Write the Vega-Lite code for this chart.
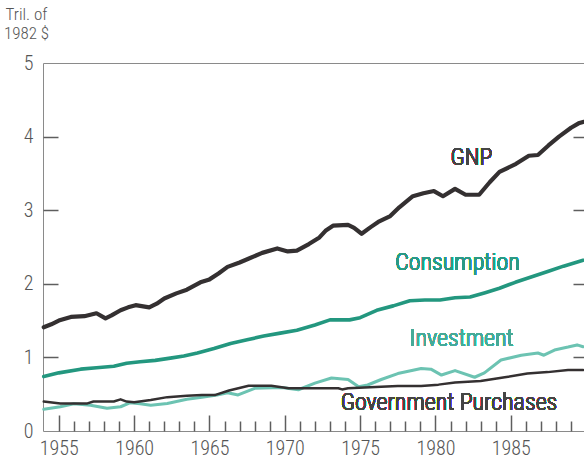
{
  "$schema": "https://vega.github.io/schema/vega-lite/v6.json",
  "width": 541,
  "height": 368,
  "autosize": {"type": "none"},
  "padding": {"left": 43, "top": 63, "right": 0, "bottom": 32},
  "background": "white",
  "config": {
    "view": {"stroke": null},
    "font": "Roboto Condensed, Roboto, sans-serif",
    "axis": {"grid": false, "domainColor": "#8a8a8a", "tickColor": "#5e5e5e", "tickWidth": 1.5, "labelColor": "#555555", "titleColor": "#555555", "labelFont": "Roboto Condensed, Roboto, sans-serif", "titleFont": "Roboto Condensed, Roboto, sans-serif", "labelFontWeight": 300, "titleFontWeight": 300}
  },
  "datasets": {
    "econ": [
      {"series": "Investment", "year": 1954.0, "v": 0.295},
      {"series": "Investment", "year": 1955.1, "v": 0.33},
      {"series": "Investment", "year": 1956.0, "v": 0.37},
      {"series": "Investment", "year": 1957.1, "v": 0.35},
      {"series": "Investment", "year": 1958.2, "v": 0.31},
      {"series": "Investment", "year": 1959.1, "v": 0.33},
      {"series": "Investment", "year": 1959.75, "v": 0.385},
      {"series": "Investment", "year": 1960.4, "v": 0.37},
      {"series": "Investment", "year": 1961.1, "v": 0.35},
      {"series": "Investment", "year": 1962.2, "v": 0.375},
      {"series": "Investment", "year": 1963.5, "v": 0.43},
      {"series": "Investment", "year": 1964.5, "v": 0.46},
      {"series": "Investment", "year": 1965.5, "v": 0.49},
      {"series": "Investment", "year": 1966.2, "v": 0.52},
      {"series": "Investment", "year": 1966.9, "v": 0.49},
      {"series": "Investment", "year": 1968.0, "v": 0.58},
      {"series": "Investment", "year": 1969.8, "v": 0.59},
      {"series": "Investment", "year": 1970.9, "v": 0.56},
      {"series": "Investment", "year": 1972.0, "v": 0.65},
      {"series": "Investment", "year": 1973.1, "v": 0.72},
      {"series": "Investment", "year": 1974.2, "v": 0.70},
      {"series": "Investment", "year": 1974.9, "v": 0.60},
      {"series": "Investment", "year": 1975.5, "v": 0.625},
      {"series": "Investment", "year": 1976.4, "v": 0.70},
      {"series": "Investment", "year": 1977.5, "v": 0.78},
      {"series": "Investment", "year": 1979.05, "v": 0.85},
      {"series": "Investment", "year": 1979.7, "v": 0.84},
      {"series": "Investment", "year": 1980.4, "v": 0.76},
      {"series": "Investment", "year": 1981.3, "v": 0.82},
      {"series": "Investment", "year": 1982.6, "v": 0.73},
      {"series": "Investment", "year": 1983.25, "v": 0.79},
      {"series": "Investment", "year": 1984.35, "v": 0.965},
      {"series": "Investment", "year": 1985.7, "v": 1.03},
      {"series": "Investment", "year": 1986.8, "v": 1.06},
      {"series": "Investment", "year": 1987.2, "v": 1.03},
      {"series": "Investment", "year": 1987.9, "v": 1.10},
      {"series": "Investment", "year": 1988.8, "v": 1.14},
      {"series": "Investment", "year": 1989.4, "v": 1.17},
      {"series": "Investment", "year": 1989.8, "v": 1.145},
      {"series": "Consumption", "year": 1954.0, "v": 0.74},
      {"series": "Consumption", "year": 1955.0, "v": 0.79},
      {"series": "Consumption", "year": 1956.45, "v": 0.84},
      {"series": "Consumption", "year": 1957.5, "v": 0.86},
      {"series": "Consumption", "year": 1958.65, "v": 0.88},
      {"series": "Consumption", "year": 1959.5, "v": 0.92},
      {"series": "Consumption", "year": 1960.4, "v": 0.94},
      {"series": "Consumption", "year": 1961.4, "v": 0.96},
      {"series": "Consumption", "year": 1962.4, "v": 0.99},
      {"series": "Consumption", "year": 1963.3, "v": 1.02},
      {"series": "Consumption", "year": 1964.2, "v": 1.06},
      {"series": "Consumption", "year": 1965.3, "v": 1.12},
      {"series": "Consumption", "year": 1966.4, "v": 1.19},
      {"series": "Consumption", "year": 1967.5, "v": 1.24},
      {"series": "Consumption", "year": 1968.6, "v": 1.29},
      {"series": "Consumption", "year": 1969.7, "v": 1.33},
      {"series": "Consumption", "year": 1970.8, "v": 1.37},
      {"series": "Consumption", "year": 1972.0, "v": 1.44},
      {"series": "Consumption", "year": 1973.0, "v": 1.51},
      {"series": "Consumption", "year": 1974.3, "v": 1.51},
      {"series": "Consumption", "year": 1975.0, "v": 1.54},
      {"series": "Consumption", "year": 1976.1, "v": 1.64},
      {"series": "Consumption", "year": 1977.2, "v": 1.70},
      {"series": "Consumption", "year": 1978.3, "v": 1.77},
      {"series": "Consumption", "year": 1979.3, "v": 1.78},
      {"series": "Consumption", "year": 1980.3, "v": 1.78},
      {"series": "Consumption", "year": 1981.3, "v": 1.81},
      {"series": "Consumption", "year": 1982.3, "v": 1.82},
      {"series": "Consumption", "year": 1983.3, "v": 1.88},
      {"series": "Consumption", "year": 1984.25, "v": 1.94},
      {"series": "Consumption", "year": 1985.3, "v": 2.02},
      {"series": "Consumption", "year": 1986.45, "v": 2.10},
      {"series": "Consumption", "year": 1987.5, "v": 2.17},
      {"series": "Consumption", "year": 1988.5, "v": 2.24},
      {"series": "Consumption", "year": 1989.8, "v": 2.32},
      {"series": "GNP", "year": 1954.0, "v": 1.41},
      {"series": "GNP", "year": 1954.5, "v": 1.45},
      {"series": "GNP", "year": 1955.0, "v": 1.50},
      {"series": "GNP", "year": 1955.8, "v": 1.55},
      {"series": "GNP", "year": 1956.7, "v": 1.56},
      {"series": "GNP", "year": 1957.5, "v": 1.60},
      {"series": "GNP", "year": 1958.1, "v": 1.53},
      {"series": "GNP", "year": 1958.5, "v": 1.57},
      {"series": "GNP", "year": 1959.1, "v": 1.64},
      {"series": "GNP", "year": 1959.6, "v": 1.68},
      {"series": "GNP", "year": 1960.1, "v": 1.71},
      {"series": "GNP", "year": 1961.0, "v": 1.68},
      {"series": "GNP", "year": 1961.5, "v": 1.73},
      {"series": "GNP", "year": 1962.0, "v": 1.80},
      {"series": "GNP", "year": 1962.8, "v": 1.87},
      {"series": "GNP", "year": 1963.5, "v": 1.92},
      {"series": "GNP", "year": 1964.4, "v": 2.02},
      {"series": "GNP", "year": 1965.0, "v": 2.06},
      {"series": "GNP", "year": 1965.6, "v": 2.14},
      {"series": "GNP", "year": 1966.2, "v": 2.23},
      {"series": "GNP", "year": 1967.0, "v": 2.29},
      {"series": "GNP", "year": 1967.7, "v": 2.35},
      {"series": "GNP", "year": 1968.5, "v": 2.42},
      {"series": "GNP", "year": 1969.5, "v": 2.48},
      {"series": "GNP", "year": 1970.2, "v": 2.44},
      {"series": "GNP", "year": 1970.8, "v": 2.45},
      {"series": "GNP", "year": 1971.6, "v": 2.54},
      {"series": "GNP", "year": 1972.3, "v": 2.63},
      {"series": "GNP", "year": 1972.7, "v": 2.72},
      {"series": "GNP", "year": 1973.2, "v": 2.79},
      {"series": "GNP", "year": 1974.2, "v": 2.80},
      {"series": "GNP", "year": 1974.6, "v": 2.76},
      {"series": "GNP", "year": 1975.1, "v": 2.68},
      {"series": "GNP", "year": 1975.7, "v": 2.77},
      {"series": "GNP", "year": 1976.2, "v": 2.84},
      {"series": "GNP", "year": 1977.0, "v": 2.92},
      {"series": "GNP", "year": 1977.6, "v": 3.04},
      {"series": "GNP", "year": 1978.5, "v": 3.19},
      {"series": "GNP", "year": 1979.2, "v": 3.23},
      {"series": "GNP", "year": 1979.9, "v": 3.26},
      {"series": "GNP", "year": 1980.5, "v": 3.19},
      {"series": "GNP", "year": 1981.3, "v": 3.29},
      {"series": "GNP", "year": 1982.0, "v": 3.21},
      {"series": "GNP", "year": 1982.9, "v": 3.21},
      {"series": "GNP", "year": 1983.6, "v": 3.38},
      {"series": "GNP", "year": 1984.25, "v": 3.52},
      {"series": "GNP", "year": 1985.35, "v": 3.63},
      {"series": "GNP", "year": 1986.2, "v": 3.74},
      {"series": "GNP", "year": 1986.8, "v": 3.75},
      {"series": "GNP", "year": 1987.5, "v": 3.88},
      {"series": "GNP", "year": 1988.2, "v": 4.00},
      {"series": "GNP", "year": 1989.0, "v": 4.12},
      {"series": "GNP", "year": 1989.5, "v": 4.18},
      {"series": "GNP", "year": 1989.8, "v": 4.20},
      {"series": "Government Purchases", "year": 1954.0, "v": 0.40},
      {"series": "Government Purchases", "year": 1955.1, "v": 0.375},
      {"series": "Government Purchases", "year": 1956.9, "v": 0.375},
      {"series": "Government Purchases", "year": 1957.3, "v": 0.40},
      {"series": "Government Purchases", "year": 1958.65, "v": 0.40},
      {"series": "Government Purchases", "year": 1959.1, "v": 0.43},
      {"series": "Government Purchases", "year": 1959.5, "v": 0.40},
      {"series": "Government Purchases", "year": 1960.0, "v": 0.39},
      {"series": "Government Purchases", "year": 1961.1, "v": 0.42},
      {"series": "Government Purchases", "year": 1962.2, "v": 0.46},
      {"series": "Government Purchases", "year": 1963.5, "v": 0.48},
      {"series": "Government Purchases", "year": 1964.5, "v": 0.49},
      {"series": "Government Purchases", "year": 1965.4, "v": 0.49},
      {"series": "Government Purchases", "year": 1966.3, "v": 0.55},
      {"series": "Government Purchases", "year": 1967.6, "v": 0.615},
      {"series": "Government Purchases", "year": 1969.1, "v": 0.615},
      {"series": "Government Purchases", "year": 1970.25, "v": 0.58},
      {"series": "Government Purchases", "year": 1972.0, "v": 0.58},
      {"series": "Government Purchases", "year": 1973.55, "v": 0.58},
      {"series": "Government Purchases", "year": 1973.8, "v": 0.565},
      {"series": "Government Purchases", "year": 1974.2, "v": 0.58},
      {"series": "Government Purchases", "year": 1975.3, "v": 0.59},
      {"series": "Government Purchases", "year": 1977.5, "v": 0.61},
      {"series": "Government Purchases", "year": 1979.05, "v": 0.61},
      {"series": "Government Purchases", "year": 1980.2, "v": 0.63},
      {"series": "Government Purchases", "year": 1981.3, "v": 0.66},
      {"series": "Government Purchases", "year": 1983.0, "v": 0.68},
      {"series": "Government Purchases", "year": 1984.6, "v": 0.73},
      {"series": "Government Purchases", "year": 1986.1, "v": 0.78},
      {"series": "Government Purchases", "year": 1987.45, "v": 0.80},
      {"series": "Government Purchases", "year": 1988.8, "v": 0.83},
      {"series": "Government Purchases", "year": 1989.8, "v": 0.83}
    ]
  },
  "data": {"name": "econ"},
  "resolve": {"axis": {"x": "independent", "y": "independent"}},
  "layer": [
    {
      "layer": [
        {
          "mark": {"type": "line", "strokeJoin": "round", "strokeCap": "round"},
          "encoding": {
            "x": {
              "field": "year", "type": "quantitative",
              "scale": {"domain": [1953.95, 1989.86], "nice": false, "zero": false},
              "axis": {"orient": "bottom", "values": [1955, 1960, 1965, 1970, 1975, 1980, 1985], "format": "d", "ticks": false, "labelPadding": 7, "labelFontSize": 20, "title": null, "labelFlush": false}
            },
            "y": {
              "field": "v", "type": "quantitative",
              "scale": {"domain": [0, 5], "nice": false},
              "axis": {"orient": "left", "values": [0, 1, 2, 3, 4, 5], "format": "d", "ticks": false, "labelPadding": 10, "labelFontSize": 20, "labelFlush": false,
                "title": ["Tril. of", "1982 $"], "titleAngle": 0, "titleAlign": "center", "titleBaseline": "top", "titleX": -17, "titleY": -57, "titleFontSize": 17, "titleLineHeight": 19}
            },
            "color": {
              "field": "series", "type": "nominal", "legend": null,
              "scale": {"domain": ["GNP", "Consumption", "Investment", "Government Purchases"], "range": ["#343031", "#23977f", "#6cc3b2", "#343031"]}
            },
            "strokeWidth": {
              "field": "series", "type": "nominal", "legend": null,
              "scale": {"domain": ["GNP", "Consumption", "Investment", "Government Purchases"], "range": [4.2, 2.5, 2.5, 3]}
            }
          }
        },
        {
          "mark": {"type": "text", "text": "GNP", "font": "Roboto Condensed, Roboto, sans-serif", "fontSize": 24, "fontWeight": 300, "color": "#454545", "align": "center", "baseline": "middle"},
          "encoding": {"x": {"datum": 1982.39, "type": "quantitative"}, "y": {"datum": 3.71, "type": "quantitative"}}
        },
        {
          "mark": {"type": "text", "text": "Consumption", "font": "Roboto Condensed, Roboto, sans-serif", "fontSize": 24, "fontWeight": 300, "color": "#2a9a86", "align": "center", "baseline": "middle"},
          "encoding": {"x": {"datum": 1981.46, "type": "quantitative"}, "y": {"datum": 2.28, "type": "quantitative"}}
        },
        {
          "mark": {"type": "text", "text": "Investment", "font": "Roboto Condensed, Roboto, sans-serif", "fontSize": 24, "fontWeight": 300, "color": "#45aa98", "align": "center", "baseline": "middle"},
          "encoding": {"x": {"datum": 1981.73, "type": "quantitative"}, "y": {"datum": 1.25, "type": "quantitative"}}
        },
        {
          "mark": {"type": "text", "text": "Government Purchases", "font": "Roboto Condensed, Roboto, sans-serif", "fontSize": 24, "fontWeight": 300, "color": "#454545", "align": "center", "baseline": "middle"},
          "encoding": {"x": {"datum": 1980.9, "type": "quantitative"}, "y": {"datum": 0.38, "type": "quantitative"}}
        }
      ]
    },
    {
      "mark": {"type": "line", "opacity": 0},
      "encoding": {
        "x": {"field": "year", "type": "quantitative", "scale": {"domain": [1953.95, 1989.86], "nice": false, "zero": false},
          "axis": {"orient": "bottom", "offset": -16, "values": [1955, 1960, 1965, 1970, 1975, 1980, 1985], "ticks": true, "tickSize": 16, "labels": false, "domain": false, "title": null}},
        "y": {"field": "v", "type": "quantitative", "scale": {"domain": [0, 5], "nice": false},
          "axis": {"orient": "left", "offset": -15, "values": [1, 2, 3, 4], "ticks": true, "tickSize": 15, "labels": false, "domain": false, "title": null}},
        "detail": {"field": "series"}
      }
    },
    {
      "mark": {"type": "line", "opacity": 0},
      "encoding": {
        "x": {"field": "year", "type": "quantitative", "scale": {"domain": [1953.95, 1989.86], "nice": false, "zero": false},
          "axis": {"orient": "bottom", "offset": -10, "values": [1956, 1957, 1958, 1959, 1961, 1962, 1963, 1964, 1966, 1967, 1968, 1969, 1971, 1972, 1973, 1974, 1976, 1977, 1978, 1979, 1981, 1982, 1983, 1984, 1986, 1987, 1988, 1989], "ticks": true, "tickSize": 10, "labels": false, "domain": false, "title": null}},
        "y": {"field": "v", "type": "quantitative", "scale": {"domain": [0, 5], "nice": false},
          "axis": {"orient": "right", "offset": -11, "values": [1, 2, 3, 4], "ticks": true, "tickSize": 11, "labels": false, "domain": false, "title": null}},
        "detail": {"field": "series"}
      }
    },
    {
      "mark": {"type": "line", "opacity": 0},
      "encoding": {
        "x": {"field": "year", "type": "quantitative", "scale": {"domain": [1953.95, 1989.86], "nice": false, "zero": false},
          "axis": {"orient": "top", "ticks": false, "labels": false, "domain": true, "title": null}},
        "y": {"field": "v", "type": "quantitative", "scale": {"domain": [0, 5], "nice": false}, "axis": null},
        "detail": {"field": "series"}
      }
    }
  ]
}
